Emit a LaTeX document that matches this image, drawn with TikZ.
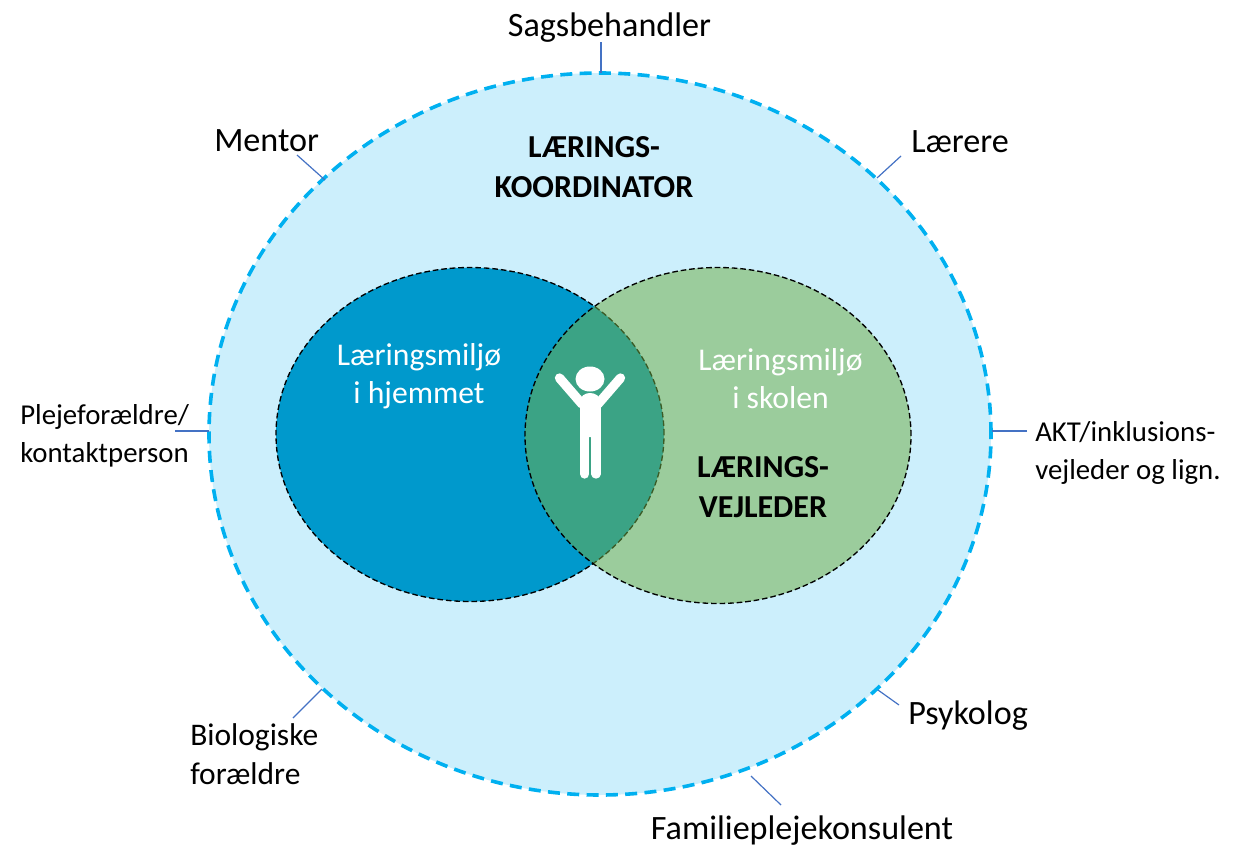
\documentclass[tikz,border=0pt]{standalone}
\usepackage{fontspec}
\setmainfont{Carlito}
\usetikzlibrary{shapes.geometric}
\definecolor{outerfill}{RGB}{204,239,252}
\definecolor{outerline}{RGB}{0,176,240}
\definecolor{homeblue}{RGB}{0,153,204}
\definecolor{schoolgreen}{RGB}{112,173,71}
\definecolor{leader}{RGB}{68,114,196}
\tikzset{
  px/.style={x=0.75pt,y=-0.75pt},
  outerring/.style={ellipse,minimum width=586.5pt,minimum height=541.5pt,inner sep=0pt,fill=outerfill,draw=outerline,line width=2.7pt,dash pattern=on 9pt off 5.5pt},
  homering/.style={ellipse,minimum width=291pt,minimum height=250.5pt,inner sep=0pt,fill=homeblue,draw=black,line width=1pt,dash pattern=on 4.2pt off 2.2pt},
  schoolring/.style={ellipse,minimum width=289.5pt,minimum height=252pt,inner sep=0pt,fill=schoolgreen,fill opacity=0.53,draw=black,draw opacity=1,line width=1pt,dash pattern=on 4.2pt off 2.2pt},
  lab/.style={inner sep=0pt,font=\fontsize{25.6pt}{30pt}\selectfont,text=black},
  smalllab/.style={inner sep=0pt,font=\fontsize{21.6pt}{28.5pt}\selectfont,text=black,align=left},
  inner/.style={inner sep=0pt,font=\fontsize{23.75pt}{28.5pt}\selectfont,text=white,align=center},
  head/.style={inner sep=0pt,font=\fontsize{24pt}{30pt}\selectfont\bfseries,text=black,align=center},
  leaderline/.style={draw=leader,line width=0.9pt},
  limb/.style={draw=white,line width=7pt,line cap=round},
}
\begin{document}
\begin{tikzpicture}[px]
\useasboundingbox (0,0) rectangle (1246,846);
\node[outerring] (outer) at (600,434) {};
\node[homering] (home) at (470,434.5) {};
\node[schoolring] (school) at (718,435.5) {};
% figure
\node[ellipse,fill=white,minimum width=21.75pt,minimum height=18.75pt,inner sep=0pt] (fighead) at (590,379) {};
\draw[limb] (559.5,378) -- (582,404);
\draw[limb] (620.5,378) -- (598,404);
\draw[limb] (584.7,405) -- (584.7,474);
\draw[limb] (596,405) -- (596,474);
\fill[white] (580,437) -- (580,402) .. controls (580,396) and (585,393) .. (590,393) .. controls (595,393) and (600.5,396) .. (600.5,402) -- (600.5,437) -- cycle;
% labels
\node[lab] (sags) at (609.5,28) {Sagsbehandler};
\node[lab,anchor=west] (mentor) at (214,141) {Mentor};
\node[lab,anchor=west] (laerere) at (911,142) {Lærere};
\node[smalllab,anchor=west] (pleje) at (20,436) {Plejeforældre/\\kontaktperson};
\node[smalllab,anchor=west] (akt) at (1035,452.5) {AKT/inklusions-\\vejleder og lign.};
\node[lab,anchor=west,align=left,font=\fontsize{23.6pt}{29pt}\selectfont] (bio) at (190,754) {Biologiske\\forældre};
\node[lab,anchor=west] (psyk) at (908,715.5) {Psykolog};
\node[lab] (fam) at (802,830.5) {Familieplejekonsulent};
\node[head] (koord) at (594,167) {LÆRINGS-\\KOORDINATOR};
\node[inner] (hjem) at (419,376) {Læringsmiljø\\i hjemmet};
\node[inner] (skole) at (780.5,379) {Læringsmiljø\\i skolen};
\node[head] (vejl) at (763,487) {LÆRINGS-\\VEJLEDER};
% connectors
\coordinate (c1a) at (601,42); \coordinate (c1b) at (601,73);
\coordinate (c2a) at (297,155); \coordinate (c2b) at (325,180);
\coordinate (c3a) at (901,156); \coordinate (c3b) at (877,178);
\coordinate (c4a) at (175,431); \coordinate (c4b) at (209,431);
\coordinate (c5a) at (1027,431); \coordinate (c5b) at (992,431);
\coordinate (c6a) at (293,718); \coordinate (c6b) at (322,689);
\coordinate (c7a) at (899,705); \coordinate (c7b) at (878,690);
\coordinate (c8a) at (781,805); \coordinate (c8b) at (751,776);
\foreach \n in {1,...,8} \draw[leaderline] (c\n a) -- (c\n b);
\end{tikzpicture}
\end{document}
